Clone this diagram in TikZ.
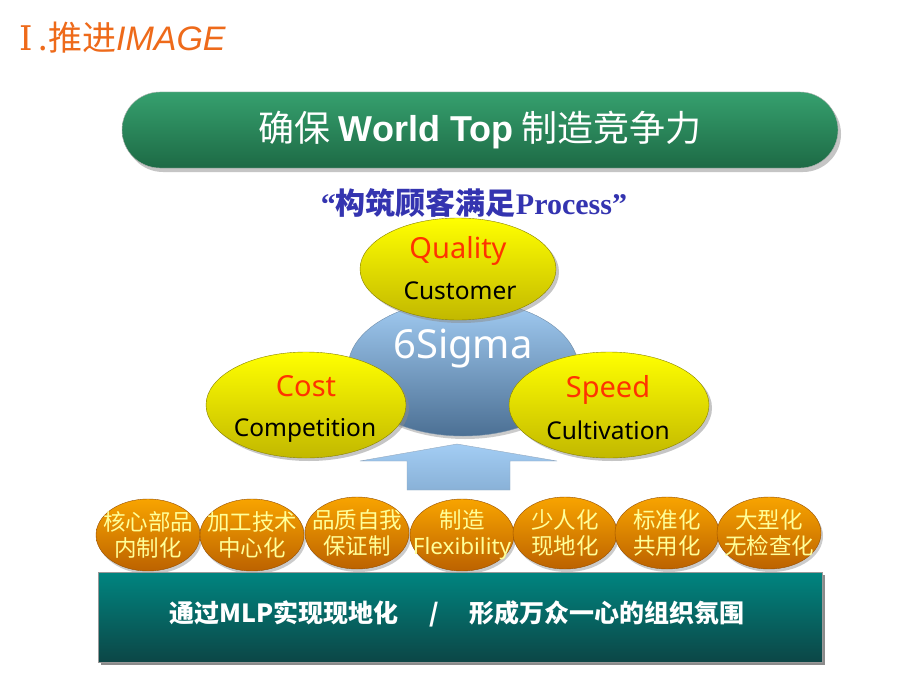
\documentclass[tikz,border=0pt]{standalone}
\usepackage{fontspec}
\setmainfont{Noto Sans}
\newfontfamily\cjk{Noto Sans CJK SC}
\newfontfamily\serifb{Liberation Serif}
\newfontfamily\numserif{DejaVu Serif}
\newfontfamily\latb{Liberation Sans}
\usetikzlibrary{shapes.geometric,shadows}
\definecolor{titleorange}{HTML}{EE6A1A}
\definecolor{procblue}{HTML}{3434B0}
\definecolor{lblred}{HTML}{FF3300}
\definecolor{barlight}{HTML}{36A06E}
\definecolor{bardark}{HTML}{1D6A45}
\definecolor{sigmalight}{HTML}{A3CDF4}
\definecolor{sigmadark}{HTML}{4C7094}
\definecolor{ylight}{HTML}{FFFF00}
\definecolor{ydark}{HTML}{C2B800}
\definecolor{olight}{HTML}{F8A400}
\definecolor{odark}{HTML}{BC6200}
\definecolor{otext}{HTML}{FFFF99}
\definecolor{teallight}{HTML}{008580}
\definecolor{tealdark}{HTML}{0C4646}
\tikzset{
  fs/.style={font=\fontsize{#1}{#1}\selectfont},
  goal/.style={ellipse, minimum width=200, minimum height=106, inner sep=0,
    top color=ylight, bottom color=ydark, draw=ydark!70!black, thin,
    drop shadow={shadow xshift=3pt, shadow yshift=-3pt, fill=black!45},
    align=center},
  pillar/.style={ellipse, minimum width=104, minimum height=72, inner sep=0,
    top color=olight, bottom color=odark, draw=odark!80!black, thin,
    drop shadow={shadow xshift=2pt, shadow yshift=-3pt, fill=black!40}},
  pillartxt/.style={align=center, text=otext, font=\cjk\fontsize{22.5}{26}\selectfont},
  big/.style={font=\fontsize{29}{34}\selectfont},
  small/.style={font=\fontsize{24.5}{28}\selectfont},
}
\begin{document}
\begin{tikzpicture}[x=1pt, y=-1pt]
\useasboundingbox[fill=white] (0,0) rectangle (920,690);

% heading
\node (heading) [text=titleorange, anchor=west, fs=34] at (16,38)
  {{\numserif Ⅰ}\,{\cjk .推进}{\latb\itshape IMAGE}};

% top bar
\node (topbar) [rounded corners=38pt, minimum width=716, minimum height=76,
  top color=barlight, bottom color=bardark, draw=black!30,
  drop shadow={shadow xshift=3pt, shadow yshift=-4pt, fill=black!45}]
  at (480,130) {};
\node (toptxt) [text=white, fs=36] at (topbar.center)
  {\cjk 确保 {\latb\bfseries World Top} 制造竞争力};

% subtitle
\node (subtitle) [text=procblue, fs=30] at (474,203)
  {\serifb\bfseries “{\cjk 构筑顾客满足}Process”};

% arrow
\shade[top color=sigmalight, bottom color=sigmalight!70!sigmadark, draw=sigmadark!60]
  (457,444) -- (557,461) -- (510,461) -- (510,490) -- (407,490) -- (407,461) -- (360,461) -- cycle;

% core
\node (sigma) [ellipse, minimum width=230, minimum height=136, inner sep=0,
  top color=sigmalight, bottom color=sigmadark, draw=sigmadark!80,
  drop shadow={shadow xshift=2pt, shadow yshift=-3pt, fill=black!40}] at (463,368) {};
\node (sigmatxt) [text=white, fs=40] at (463,349) {6Sigma};

\node (quality) [goal, minimum width=196, minimum height=102] at (458,269) {};
\node (qualtop) [text=lblred, big] at (458,251) {Quality};
\node (qualbot) [small] at (460,291) {Customer};

\node (cost) [goal] at (306,405) {};
\node (costtop) [text=lblred, big] at (306,386) {Cost};
\node (costbot) [small] at (305,430) {Competition};

\node (speed) [goal] at (609,405) {};
\node (speedtop) [text=lblred, big] at (608,390) {Speed};
\node (speedbot) [small] at (608,430) {Cultivation};

% pillars
\node (p1) [pillar] at (148,535) {};
\node (p1txt) [pillartxt] at (p1) {核心部品\\内制化};
\node (p2) [pillar] at (252,535) {};
\node (p2txt) [pillartxt] at (p2) {加工技术\\中心化};
\node (p3) [pillar] at (357,533) {};
\node (p3txt) [pillartxt] at (p3) {品质自我\\保证制};
\node (p4) [pillar] at (462,535) {};
\node (p4txt) [pillartxt] at (p4) {制造\\{\rmfamily Flexibility}};
\node (p5) [pillar] at (565,533) {};
\node (p5txt) [pillartxt] at (p5) {少人化\\现地化};
\node (p6) [pillar] at (667,533) {};
\node (p6txt) [pillartxt] at (p6) {标准化\\共用化};
\node (p7) [pillar] at (769,533) {};
\node (p7txt) [pillartxt] at (p7) {大型化\\无检查化};

% base
\node (base) [minimum width=724, minimum height=90, inner sep=0,
  top color=teallight, bottom color=tealdark, draw=black!40,
  drop shadow={shadow xshift=3pt, shadow yshift=-3pt, fill=black!90}]
  at (460,617) {};
\node (basetxt) [text=white, fs=25] at (457,614)
  {\cjk\bfseries 通过MLP实现现地化\quad\ /\ \quad 形成万众一心的组织氛围};
\end{tikzpicture}
\end{document}
